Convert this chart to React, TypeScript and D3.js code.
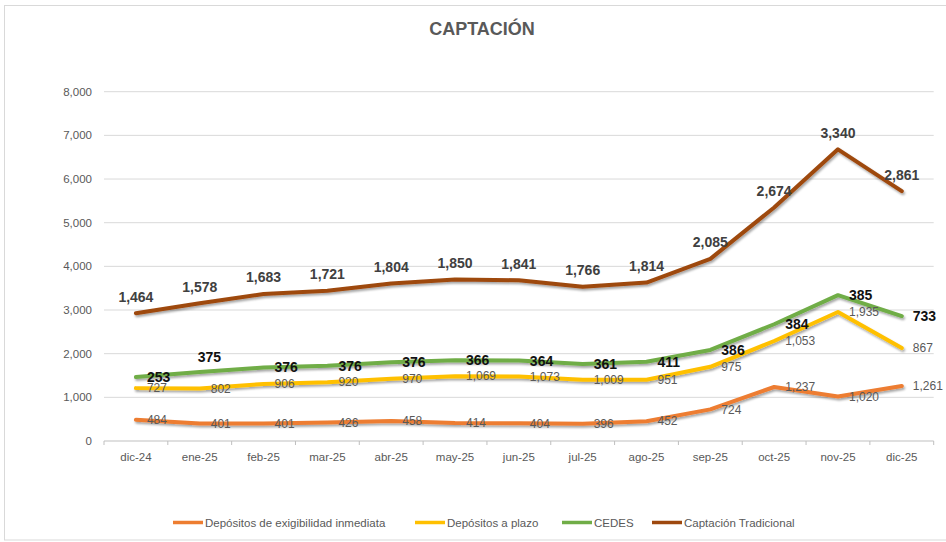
import React from "react";
import * as d3 from "d3";

const categories = ["dic-24", "ene-25", "feb-25", "mar-25", "abr-25", "may-25", "jun-25", "jul-25", "ago-25", "sep-25", "oct-25", "nov-25", "dic-25"];
const exigibilidad = [484, 401, 401, 426, 458, 414, 404, 396, 452, 724, 1237, 1020, 1261];
const plazo = [727, 802, 906, 920, 970, 1069, 1073, 1009, 951, 975, 1053, 1935, 867];
const cedes = [253, 375, 376, 376, 376, 366, 364, 361, 411, 386, 384, 385, 733];
const tradicional = [1464, 1578, 1683, 1721, 1804, 1850, 1841, 1766, 1814, 2085, 2674, 3340, 2861];
const yTicks = [0, 1000, 2000, 3000, 4000, 5000, 6000, 7000, 8000];

const seriesNames = ["Depósitos de exigibilidad inmediata", "Depósitos a plazo", "CEDES", "Captación Tradicional"];
const seriesValues = [exigibilidad, plazo, cedes, tradicional];
const seriesColors = ["#ED7D31", "#FFC000", "#70AD47", "#9E480E"];
const labelStyles = [
  { fill: "#595959", weight: 400, size: 12, pos: "right" },
  { fill: "#595959", weight: 400, size: 12, pos: "right" },
  { fill: "#111111", weight: 700, size: 14, pos: "right" },
  { fill: "#404040", weight: 700, size: 14, pos: "above" },
];
// CEDES label moved above the line for this category in the reference
const cedesAboveCats = ["ene-25"];

const FONT = "'Liberation Sans', Arial, sans-serif";
const W = 946;
const H = 542;

export default function App() {
  const x = d3.scaleBand<string>().domain(categories).range([104, 933.7]).padding(0);
  const y = d3.scaleLinear().domain([0, 8000]).range([441, 91.7]);
  const cx = (c: string) => (x(c) as number) + x.bandwidth() / 2;

  const rows = categories.map((c, i) => {
    const r: Record<string, any> = { cat: c };
    seriesNames.forEach((n, s) => (r[n] = seriesValues[s][i]));
    return r;
  });
  const stacked = d3.stack<Record<string, any>>().keys(seriesNames)(rows);

  const line = d3
    .line<[number, number]>()
    .x((d) => d[0])
    .y((d) => d[1]);

  const fmt = d3.format(",");

  const legendItems = (() => {
    const items: { name: string; color: string; x: number }[] = [];
    const starts = [173, 415, 562, 652];
    seriesNames.forEach((n, i) => items.push({ name: n, color: seriesColors[i], x: starts[i] }));
    return items;
  })();

  const boundaries = categories.map((c) => x(c) as number).concat([933.7]);

  return (
    <svg width={W} height={H} style={{ position: "absolute", left: 0, top: 0, background: "#fff" }} fontFamily={FONT}>
      <defs>
        <filter id="shadow" x="-10%" y="-10%" width="120%" height="140%">
          <feDropShadow dx="1.2" dy="2" stdDeviation="1.3" floodColor="#000" floodOpacity="0.35" />
        </filter>
      </defs>
      <rect x={4.5} y={5.5} width={960} height={534.5} fill="#fff" stroke="#D9D9D9" strokeWidth={1} />
      <text x={482} y={35} textAnchor="middle" fontSize={18} fontWeight={700} fill="#595959">
        CAPTACIÓN
      </text>

      {/* gridlines */}
      {yTicks.map((t) => (
        <g key={t}>
          <line x1={104} x2={933.7} y1={y(t)} y2={y(t)} stroke={t === 0 ? "#BFBFBF" : "#D9D9D9"} strokeWidth={1} />
          <text x={92} y={y(t)} dy="0.35em" textAnchor="end" fontSize={11.5} fill="#595959">
            {fmt(t)}
          </text>
        </g>
      ))}
      {boundaries.map((b, i) => (
        <line key={i} x1={b} x2={b} y1={y(0)} y2={y(0) + 4} stroke="#BFBFBF" strokeWidth={1} />
      ))}
      {categories.map((c) => (
        <text key={c} x={cx(c)} y={457} dy="0.35em" textAnchor="middle" fontSize={11.5} fill="#595959">
          {c}
        </text>
      ))}

      {/* lines */}
      {stacked.map((s, si) => (
        <path
          key={s.key}
          d={line(s.map((d, i) => [cx(categories[i]), y(d[1])])) || ""}
          fill="none"
          stroke={seriesColors[si]}
          strokeWidth={4}
          strokeLinejoin="round"
          strokeLinecap="round"
          filter="url(#shadow)"
        />
      ))}

      {/* labels */}
      {stacked.map((s, si) =>
        s.map((d, i) => {
          const c = categories[i];
          const st = labelStyles[si];
          const px = cx(c);
          const py = y(d[1]);
          const val = seriesValues[si][i];
          let lx = px + 11;
          let ly = py;
          let anchor = "start";
          if (st.pos === "above") {
            lx = px;
            ly = py - 16.5;
            anchor = "middle";
          } else if (si === 2 && cedesAboveCats.includes(c)) {
            lx = px - 2;
            ly = py - 15;
          }
          return (
            <text
              key={`${si}-${i}`}
              x={lx}
              y={ly}
              dy="0.35em"
              textAnchor={anchor}
              fontSize={st.size}
              fontWeight={st.weight}
              fill={st.fill}
            >
              {fmt(val)}
            </text>
          );
        })
      )}

      {/* legend */}
      {legendItems.map((it) => (
        <g key={it.name}>
          <line x1={it.x} x2={it.x + 30} y1={522.5} y2={522.5} stroke={it.color} strokeWidth={3.5} />
          <text x={it.x + 32} y={522.5} dy="0.35em" fontSize={11.5} fill="#595959">
            {it.name}
          </text>
        </g>
      ))}
    </svg>
  );
}
